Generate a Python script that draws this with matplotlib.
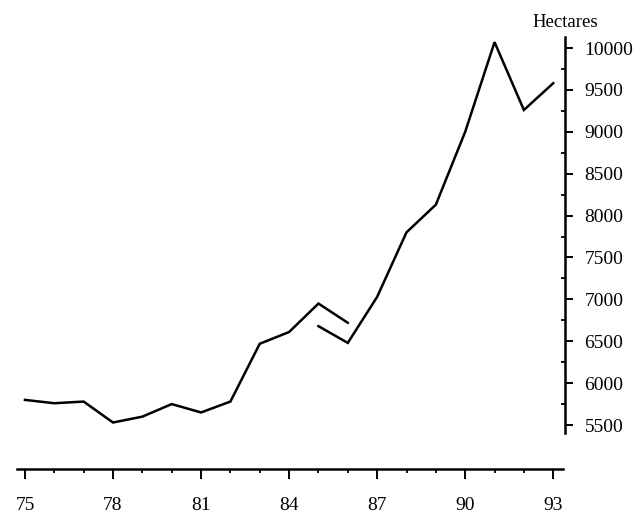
import matplotlib
matplotlib.use("Agg")
import matplotlib.pyplot as plt
from matplotlib.ticker import MultipleLocator, FixedLocator

# Data (hectares), series break between 1985 and 1986
years_a = [75, 76, 77, 78, 79, 80, 81, 82, 83, 84, 85, 86]
values_a = [5800, 5760, 5780, 5530, 5600, 5750, 5650, 5780, 6470, 6610, 6950, 6720]
years_b = [85, 86, 87, 88, 89, 90, 91, 92, 93]
values_b = [6680, 6480, 7030, 7800, 8130, 9000, 10070, 9260, 9580]

x_ticks = [75, 78, 81, 84, 87, 90, 93]
y_ticks = [5500, 6000, 6500, 7000, 7500, 8000, 8500, 9000, 9500, 10000]
y_minor = [5750, 6250, 6750, 7250, 7750, 8250, 8750, 9250, 9750]
unit_label = "Hectares"

plt.rcParams['font.family'] = ['Liberation Serif', 'DejaVu Serif']

fig = plt.figure(figsize=(6.4, 5.15), dpi=100)
ax = fig.add_axes([0.0266, 0.0893, 0.8562, 0.8388])

ax.plot(years_a, values_a, color='black', lw=1.8, solid_joinstyle='miter')
ax.plot(years_b, values_b, color='black', lw=1.8, solid_joinstyle='miter')

ax.set_xlim(74.73, 93.4)
ax.set_ylim(4975, 10131)

# spines
ax.spines['top'].set_visible(False)
ax.spines['left'].set_visible(False)
ax.spines['right'].set_linewidth(1.8)
ax.spines['bottom'].set_linewidth(1.8)
ax.spines['right'].set_bounds(5405, 10131)
ax.spines['bottom'].set_bounds(74.73, 93.33)

ax.yaxis.tick_right()
ax.set_xticks(x_ticks)
ax.set_xticklabels([str(v) for v in x_ticks])
ax.xaxis.set_minor_locator(MultipleLocator(1))
ax.set_yticks(y_ticks)
ax.set_yticklabels([str(v) for v in y_ticks])
ax.yaxis.set_minor_locator(FixedLocator(y_minor))

ax.tick_params(axis='x', which='major', direction='out', length=7, width=1.4,
               pad=13, labelsize=14)
ax.tick_params(axis='x', which='minor', direction='out', length=3, width=1.3)
ax.tick_params(axis='y', which='major', direction='out', length=6, width=1.4,
               pad=8, labelsize=14, right=True, left=False)
ax.tick_params(axis='y', which='minor', direction='in', length=3, width=1.3,
               right=True, left=False)

ax.text(1.0, 1.015, unit_label, transform=ax.transAxes, ha='center', va='bottom',
        fontsize=13.5)

fig.savefig("out.png", dpi=100)
